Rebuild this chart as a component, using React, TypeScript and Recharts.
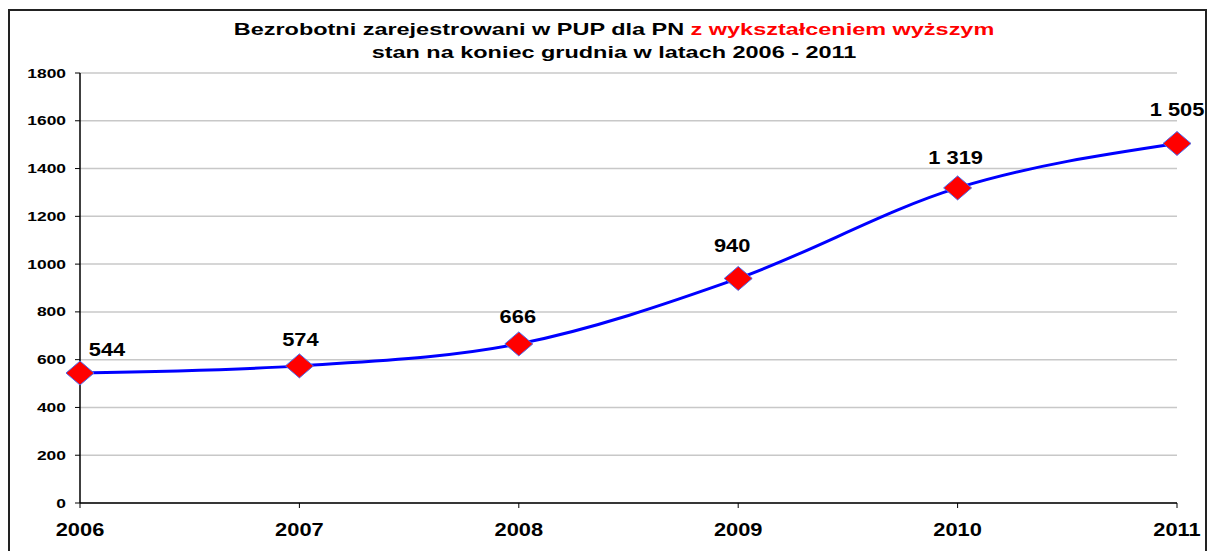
import { LineChart, Line, XAxis, YAxis, CartesianGrid, LabelList } from 'recharts';

const years = ['2006', '2007', '2008', '2009', '2010', '2011'];
const unemployed = [544, 574, 666, 940, 1319, 1505];
const yTicks = [0, 200, 400, 600, 800, 1000, 1200, 1400, 1600, 1800];

const chartData = years.map((year, i) => ({ year, value: unemployed[i] }));

const font = "Arial, 'Liberation Sans', sans-serif";

// etykiety w oryginale są rozciągnięte w poziomie
const fmt = (v: number) => String(v).replace(/\B(?=(\d{3})+(?!\d))/g, ' ');

const Diamond = (props: any) => {
  const { cx, cy } = props;
  if (cx == null || cy == null) return null;
  return (
    <polygon
      points={`${cx - 14},${cy} ${cx},${cy - 12} ${cx + 14},${cy} ${cx},${cy + 12}`}
      fill="#ff0000"
      stroke="#4a6cf0"
      strokeWidth={1}
    />
  );
};

const labelDx = [27, 1, -1, -6, -2, 0];
const labelDy = [-17, -20, -21, -26, -24, -27];

const ValueLabel = (props: any) => {
  const { x, y, value, index } = props;
  return (
    <g transform={`translate(${x + labelDx[index]},${y + labelDy[index]})`}>
      <text
        transform="scale(1.25,1)"
        textAnchor="middle"
        fontFamily={font}
        fontWeight="bold"
        fontSize={17.5}
        fill="#000"
      >
        {fmt(value)}
      </text>
    </g>
  );
};

const YTick = (props: any) => {
  const { x, y, payload } = props;
  return (
    <g transform={`translate(${x},${y})`}>
      <text transform="scale(1.34,1)" textAnchor="end" dy={4.5} fontFamily={font} fontWeight="bold" fontSize={13} fill="#000">
        {payload.value}
      </text>
    </g>
  );
};

const XTick = (props: any) => {
  const { x, y, payload } = props;
  return (
    <g transform={`translate(${x},${y})`}>
      <text transform="scale(1.25,1)" textAnchor="middle" dy={24} fontFamily={font} fontWeight="bold" fontSize={17.5} fill="#000">
        {payload.value}
      </text>
    </g>
  );
};

export default function App() {
  return (
    <div style={{ position: 'absolute', left: 0, top: 0, width: 1207, height: 551, background: '#fff', overflow: 'hidden' }}>
      <div
        style={{
          position: 'absolute',
          left: 8,
          top: 9,
          width: 1195,
          height: 560,
          borderTop: '2px solid #222',
          borderLeft: '2px solid #222',
          borderRight: '2px solid #222',
        }}
      />
      <div
        style={{
          position: 'absolute',
          left: 0,
          top: 18,
          width: 1228,
          textAlign: 'center',
          fontFamily: font,
          fontWeight: 'bold',
          fontSize: 16.3,
          lineHeight: '23px',
          color: '#000',
          transform: 'scaleX(1.44)',
          transformOrigin: '614px 0',
        }}
      >
        <div>
          Bezrobotni zarejestrowani w PUP dla PN <span style={{ color: '#ff0000' }}>z wykształceniem wyższym</span>
        </div>
        <div>stan na koniec grudnia w latach 2006 - 2011</div>
      </div>
      <div style={{ position: 'absolute', left: 0, top: 0 }}>
        <LineChart width={1207} height={551} data={chartData} margin={{ top: 73, right: 30, bottom: 18, left: 8 }}>
          <CartesianGrid vertical={false} stroke="#c8c8c8" strokeWidth={1.5} />
          <XAxis
            dataKey="year"
            height={30}
            axisLine={{ stroke: '#000', strokeWidth: 1.5 }}
            tickLine={{ stroke: '#000' }}
            tickSize={5}
            tick={<XTick />}
            tickMargin={4}
            interval={0}
          />
          <YAxis
            width={72}
            domain={[0, 1800]}
            ticks={yTicks}
            axisLine={{ stroke: '#000', strokeWidth: 1.5 }}
            tickLine={{ stroke: '#000' }}
            tickSize={5}
            tickMargin={9}
            tick={<YTick />}
          />
          <Line
            type="monotone"
            dataKey="value"
            stroke="#0000ff"
            strokeWidth={3}
            dot={<Diamond />}
            activeDot={false}
            isAnimationActive={false}
          >
            <LabelList dataKey="value" content={<ValueLabel />} />
          </Line>
        </LineChart>
      </div>
    </div>
  );
}
